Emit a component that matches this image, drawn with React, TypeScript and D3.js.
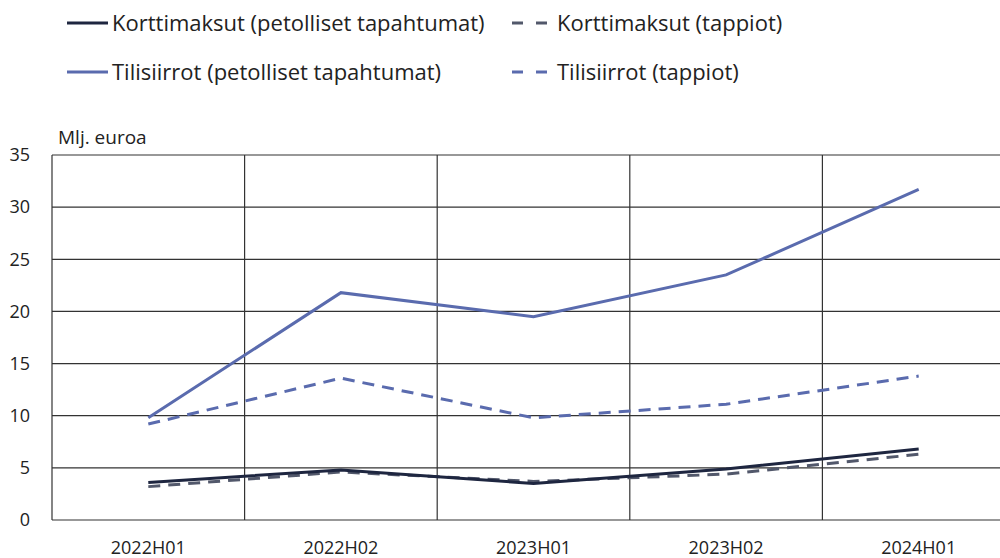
import React from 'react';
import * as d3 from 'd3';

const categories = ['2022H01', '2022H02', '2023H01', '2023H02', '2024H01'];
const yTicks = [0, 5, 10, 15, 20, 25, 30, 35];

const korttiPetolliset = [3.6, 4.8, 3.5, 4.9, 6.8];
const korttiTappiot = [3.2, 4.6, 3.7, 4.4, 6.3];
const tiliPetolliset = [9.8, 21.8, 19.5, 23.5, 31.7];
const tiliTappiot = [9.2, 13.6, 9.8, 11.1, 13.8];

const series = [
  { name: 'Korttimaksut (petolliset tapahtumat)', values: korttiPetolliset, color: '#1e2640', dash: '' },
  { name: 'Korttimaksut (tappiot)', values: korttiTappiot, color: '#52586b', dash: '12,8' },
  { name: 'Tilisiirrot (petolliset tapahtumat)', values: tiliPetolliset, color: '#5a6bae', dash: '' },
  { name: 'Tilisiirrot (tappiot)', values: tiliTappiot, color: '#5a6bae', dash: '12,8' },
];

const W = 1000;
const H = 558;
const font = '"Open Sans", sans-serif';

export default function App() {
  const left = 52;
  const right = 1015;
  const top = 155;
  const bottom = 520;

  const x = d3.scaleBand().domain(categories).range([left, right]).padding(0);
  const y = d3.scaleLinear().domain([0, 35]).range([bottom, top]);

  const line = d3.line<number>()
    .x((_, i) => (x(categories[i]) || 0) + x.bandwidth() / 2)
    .y(d => y(d));

  // legend slots: solid samples on the left, dashed ones in the second column
  const legendPos = [
    { x: 67, y: 23 },
    { x: 512, y: 23 },
    { x: 67, y: 72 },
    { x: 512, y: 72 },
  ];

  return (
    <svg width={W} height={H} style={{ position: 'absolute', left: 0, top: 0, background: '#fff' }}>
      {/* legend */}
      {series.map((s, i) => {
        const p = legendPos[i];
        const dashed = s.dash !== '';
        return (
          <g key={s.name}>
            <line
              x1={p.x}
              x2={dashed ? p.x + 35 : p.x + 41}
              y1={p.y}
              y2={p.y}
              stroke={s.color}
              strokeWidth={3}
              strokeDasharray={dashed ? '11,13' : undefined}
            />
            <text
              x={dashed ? p.x + 45 : p.x + 45}
              y={p.y}
              dy="0.35em"
              fontFamily={font}
              fontSize={22}
              fill="#222"
            >
              {s.name}
            </text>
          </g>
        );
      })}

      {/* grid */}
      {yTicks.map(t => (
        <line key={'h' + t} x1={left} x2={right} y1={y(t)} y2={y(t)} stroke="#333" strokeWidth={1.2} />
      ))}
      {categories.map(c => (
        <line
          key={'v' + c}
          x1={x(c) || 0}
          x2={x(c) || 0}
          y1={top}
          y2={bottom}
          stroke="#333"
          strokeWidth={1.2}
        />
      ))}

      {/* y axis labels */}
      {yTicks.map(t => (
        <text
          key={'yl' + t}
          x={30}
          y={y(t)}
          dy="0.35em"
          textAnchor="end"
          fontFamily={font}
          fontSize={18}
          fill="#222"
        >
          {t}
        </text>
      ))}
      <text x={58} y={137} dy="0.35em" fontFamily={font} fontSize={19} fill="#222">
        Mlj. euroa
      </text>

      {/* x axis labels */}
      {categories.map(c => (
        <text
          key={'xl' + c}
          x={(x(c) || 0) + x.bandwidth() / 2}
          y={548}
          dy="0.35em"
          textAnchor="middle"
          fontFamily={font}
          fontSize={18}
          fill="#222"
        >
          {c}
        </text>
      ))}

      {/* lines, tilisiirrot drawn first */}
      {[3, 2, 1, 0].map(i => {
        const s = series[i];
        return (
          <path
            key={'l' + s.name}
            d={line(s.values) || ''}
            fill="none"
            stroke={s.color}
            strokeWidth={3}
            strokeDasharray={s.dash || undefined}
          />
        );
      })}
    </svg>
  );
}
